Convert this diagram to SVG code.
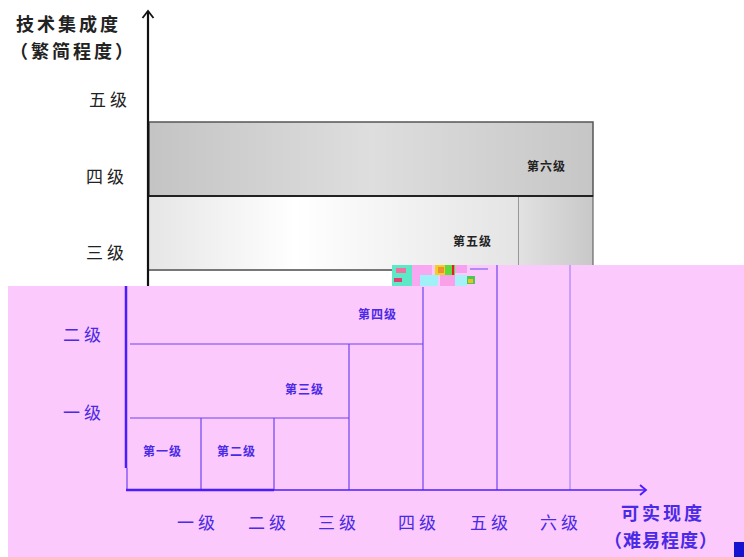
<svg xmlns="http://www.w3.org/2000/svg" width="744" height="557" viewBox="0 0 744 557">
<defs>
<style>
.k{font-family:"Noto Sans CJK SC","Noto Sans",sans-serif;fill:#222}
.b{font-family:"Noto Sans CJK SC","Noto Sans",sans-serif;fill:#4a2ae6}
.ax{font-size:17px;letter-spacing:4px}
.ttl{font-size:18px;letter-spacing:3px;font-weight:bold}
.lv{font-size:12px;font-weight:bold;letter-spacing:1px}
.bl{stroke:#6e44f0;stroke-width:1.2;fill:none}
</style>
<linearGradient id="g6" x1="0" y1="0" x2="1" y2="0">
<stop offset="0" stop-color="#c4c4c4"/><stop offset="0.5" stop-color="#dedede"/><stop offset="1" stop-color="#c6c6c6"/>
</linearGradient>
<linearGradient id="g5" x1="0" y1="0" x2="1" y2="0">
<stop offset="0" stop-color="#e6e6e6"/><stop offset="0.4" stop-color="#ffffff"/><stop offset="1" stop-color="#e4e4e4"/>
</linearGradient>
<linearGradient id="gc" x1="0" y1="0" x2="1" y2="0">
<stop offset="0" stop-color="#e2e2e2"/><stop offset="1" stop-color="#c8c8c8"/>
</linearGradient>
</defs>
<rect width="744" height="557" fill="#ffffff"/>

<!-- top (black) section nodes -->
<g id="level6">
<rect x="149" y="122" width="444" height="74" fill="url(#g6)" stroke="#555" stroke-width="1.5"/>
<text class="k lv" x="527" y="171">第六级</text>
</g>
<g id="level6-column">
<rect x="518" y="196" width="75" height="80" fill="url(#gc)" stroke="#666" stroke-width="1.2"/>
</g>
<g id="level5">
<rect x="149" y="196" width="369" height="74" fill="url(#g5)"/>
<line x1="149" y1="196" x2="593" y2="196" stroke="#222" stroke-width="1.8"/>
<line x1="149" y1="270" x2="392" y2="270" stroke="#777" stroke-width="1.8"/>
<text class="k lv" x="453" y="246">第五级</text>
</g>

<!-- labels top -->
<g id="y-title">
<text class="k ttl" x="16" y="31">技术集成度</text>
<text class="k ttl" x="10" y="58">（繁简程度）</text>
</g>
<g id="y-labels-top">
<text class="k ax" x="89" y="106">五级</text>
<text class="k ax" x="86" y="183">四级</text>
<text class="k ax" x="86" y="259">三级</text>
</g>

<!-- pink lower section -->
<rect x="8" y="286" width="736" height="271" fill="#fcc9fc"/>
<rect x="392" y="265" width="352" height="22" fill="#fcc9fc"/>
<g id="glitch">
<rect x="392" y="265" width="20" height="21" fill="#5ee8c8"/>
<rect x="396" y="268" width="10" height="5" fill="#f070a0"/>
<rect x="394" y="278" width="8" height="4" fill="#e04070"/>
<rect x="412" y="265" width="20" height="21" fill="#f8a8f0"/>
<rect x="420" y="275" width="18" height="11" fill="#a0f0f8"/>
<rect x="435" y="265" width="10" height="10" fill="#f0d020"/>
<rect x="438" y="267" width="6" height="6" fill="#f09030"/>
<rect x="445" y="265" width="10" height="10" fill="#60d840"/>
<rect x="452" y="265" width="2" height="10" fill="#e02020"/>
<rect x="455" y="265" width="12" height="8" fill="#f8a0f0"/>
<rect x="440" y="275" width="15" height="11" fill="#f8a0e8"/>
<rect x="455" y="275" width="12" height="11" fill="#a8f0f8"/>
<rect x="467" y="276" width="8" height="8" fill="#48c858"/>
<rect x="468" y="279" width="5" height="4" fill="#f0c020"/>
<rect x="470" y="268" width="18" height="2" fill="#8060f0" opacity="0.6"/>
</g>

<!-- lower (blue) grid nodes -->
<g id="level4">
<line class="bl" x1="130" y1="344" x2="423" y2="344"/>
<line class="bl" x1="423" y1="287" x2="423" y2="490"/>
<text class="b lv" x="358" y="319">第四级</text>
</g>
<g id="level3">
<line class="bl" x1="130" y1="418" x2="349" y2="418"/>
<line class="bl" x1="349" y1="344" x2="349" y2="490"/>
<text class="b lv" x="285" y="394">第三级</text>
</g>
<g id="level1">
<line class="bl" x1="201" y1="418" x2="201" y2="490"/>
<text class="b lv" x="143" y="456">第一级</text>
</g>
<g id="level2">
<line class="bl" x1="274" y1="418" x2="274" y2="490"/>
<text class="b lv" x="217" y="456">第二级</text>
</g>
<g id="col5">
<line class="bl" x1="497" y1="265" x2="497" y2="490"/>
</g>
<g id="col6">
<line x1="570" y1="265" x2="570" y2="490" stroke="#b890f8" stroke-width="1.5"/>
</g>

<g id="y-labels-bottom">
<text class="b ax" x="63" y="341">二级</text>
<text class="b ax" x="63" y="419">一级</text>
</g>
<g id="x-labels">
<text class="b ax" x="177" y="529">一级</text>
<text class="b ax" x="248" y="529">二级</text>
<text class="b ax" x="318" y="529">三级</text>
<text class="b ax" x="398" y="529">四级</text>
<text class="b ax" x="470" y="529">五级</text>
<text class="b ax" x="540" y="529">六级</text>
</g>
<g id="x-title">
<text class="b ttl" x="621" y="520">可实现度</text>
<text class="b ttl" x="604" y="547" style="letter-spacing:1px">（难易程度）</text>
</g>

<!-- connectors: axes -->
<g id="axes">
<line x1="148" y1="11" x2="148" y2="286" stroke="#111" stroke-width="2.2"/>
<path d="M142.5,18 L148,11 L153.5,18" fill="none" stroke="#111" stroke-width="1.8"/>
<line x1="126" y1="286" x2="126" y2="468" stroke="#4a1cff" stroke-width="2.5"/>
<line x1="127" y1="468" x2="127" y2="490" stroke="#6e44f0" stroke-width="1.2"/>
<line x1="126" y1="490" x2="274" y2="490" stroke="#4a1cff" stroke-width="2.5"/>
<line x1="274" y1="490" x2="645" y2="490" stroke="#4a1cff" stroke-width="1.6"/>
<path d="M640,485 L646,490 L640,495" fill="none" stroke="#4a1cff" stroke-width="1.8"/>
</g>

<rect x="734" y="542" width="10" height="15" fill="#1414d0"/>
</svg>
